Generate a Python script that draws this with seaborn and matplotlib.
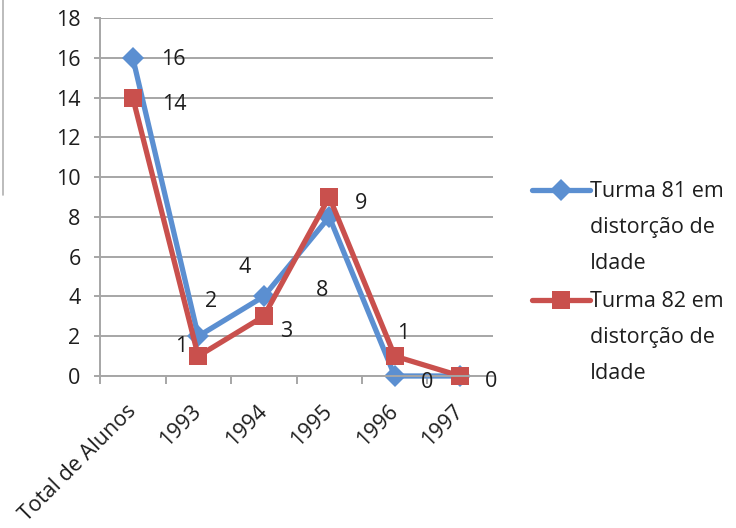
import matplotlib
matplotlib.use("Agg")
import matplotlib.pyplot as plt
from matplotlib.lines import Line2D
import seaborn as sns
import pandas as pd

# Data
categorias = ["Total de Alunos", "1993", "1994", "1995", "1996", "1997"]
turma_81 = [16, 2, 4, 8, 0, 0]
turma_82 = [14, 1, 3, 9, 1, 0]
serie_81 = "Turma 81 em\ndistorção de\nIdade"
serie_82 = "Turma 82 em\ndistorção de\nIdade"
y_ticks = [0, 2, 4, 6, 8, 10, 12, 14, 16, 18]

# Styling
cores = ["#5b8fd1", "#c9504d"]
marcadores = ["D", "s"]
tam_marcador = [11, 13.5]
fonte = 15.5
# data-label offsets in points (dx, dy) for each series
desloc_81 = [(29, -1), (9, 25), (-14, 21), (-5, -53), (23, -5), (0, 0)]
desloc_82 = [(30, -5), (-12, 7), (16, -11), (23, -5), (6, 16), (22, -4)]
mostrar_81 = [True, True, True, True, True, False]
mostrar_82 = [True, True, True, True, True, True]

sns.set_theme(style="white")
plt.rcParams["font.family"] = ["Open Sans", "DejaVu Sans"]

df = pd.DataFrame({
    "categoria": categorias * 2,
    "valor": turma_81 + turma_82,
    "serie": [serie_81] * len(categorias) + [serie_82] * len(categorias),
})

fig = plt.figure(figsize=(7.36, 5.28), dpi=100)
ax = fig.add_axes([100 / 736, 1 - 376 / 528, 393 / 736, 358 / 528])

sns.lineplot(
    data=df, x="categoria", y="valor", hue="serie", style="serie",
    palette=cores, markers=marcadores, dashes=False, sort=False,
    linewidth=3.8, legend=False, ax=ax,
)
for ln, ms in zip(ax.lines, tam_marcador):
    ln.set_markersize(ms)
    ln.set_markeredgewidth(0)
    ln.set_clip_on(False)

ax.set_xlim(-0.5, len(categorias) - 0.5)
ax.set_ylim(0, 18)
ax.set_yticks(y_ticks)
ax.set_xlabel("")
ax.set_ylabel("")

grid_cor = "#a6a6a6"
ax.yaxis.grid(True, color=grid_cor, linewidth=1.4)
ax.xaxis.grid(False)
ax.set_axisbelow(True)
for s in ["top", "right"]:
    ax.spines[s].set_visible(False)
for s in ["left", "bottom"]:
    ax.spines[s].set_color(grid_cor)
    ax.spines[s].set_linewidth(1.4)

ax.set_xticks(range(len(categorias)))
ax.set_xticklabels(categorias, rotation=45, ha="right", va="center",
                   rotation_mode="anchor", fontsize=fonte, color="#1e1e1e")
ax.set_xticks([i - 0.5 for i in range(len(categorias))], minor=True)
ax.tick_params(axis="x", which="major", length=0, pad=23)
ax.tick_params(axis="x", which="minor", length=6, width=1.4, color=grid_cor, bottom=True)
ax.tick_params(axis="y", length=4, width=1.4, color=grid_cor, labelsize=fonte,
               labelcolor="#1e1e1e", pad=10, left=True)

# Data labels
for vals, desl, mostrar in ((turma_81, desloc_81, mostrar_81), (turma_82, desloc_82, mostrar_82)):
    for i, (v, (dx, dy), m) in enumerate(zip(vals, desl, mostrar)):
        if m:
            ax.annotate(str(v), (i, v), xytext=(dx, dy), textcoords="offset points",
                        ha="center", va="center", fontsize=fonte, color="#1e1e1e")

# Chart frame edge on the left
fig.add_artist(Line2D([3 / 736, 3 / 736], [1, 1 - 195 / 528], transform=fig.transFigure,
                      color="#b0b0b0", linewidth=1.2))

# Legend drawn with the handle aligned to the first text line
leg_x0, leg_x1, leg_txt = 532 / 736, 590 / 736, 590 / 736
passo = 36 / 528
for nome, cor, mk, ms, y in ((serie_81, cores[0], marcadores[0], tam_marcador[0], 1 - 190 / 528),
                              (serie_82, cores[1], marcadores[1], tam_marcador[1], 1 - 300 / 528)):
    fig.add_artist(Line2D([leg_x0, (leg_x0 + leg_x1) / 2, leg_x1], [y, y, y],
                          transform=fig.transFigure, color=cor, linewidth=3.8,
                          marker=mk, markersize=ms, markeredgewidth=0, markevery=[1]))
    for k, linha in enumerate(nome.split("\n")):
        fig.text(leg_txt, y - 7 / 528 - k * passo, linha, ha="left", va="baseline",
                 fontsize=fonte, color="#1e1e1e", transform=fig.transFigure)

fig.savefig("out.png", dpi=100)
